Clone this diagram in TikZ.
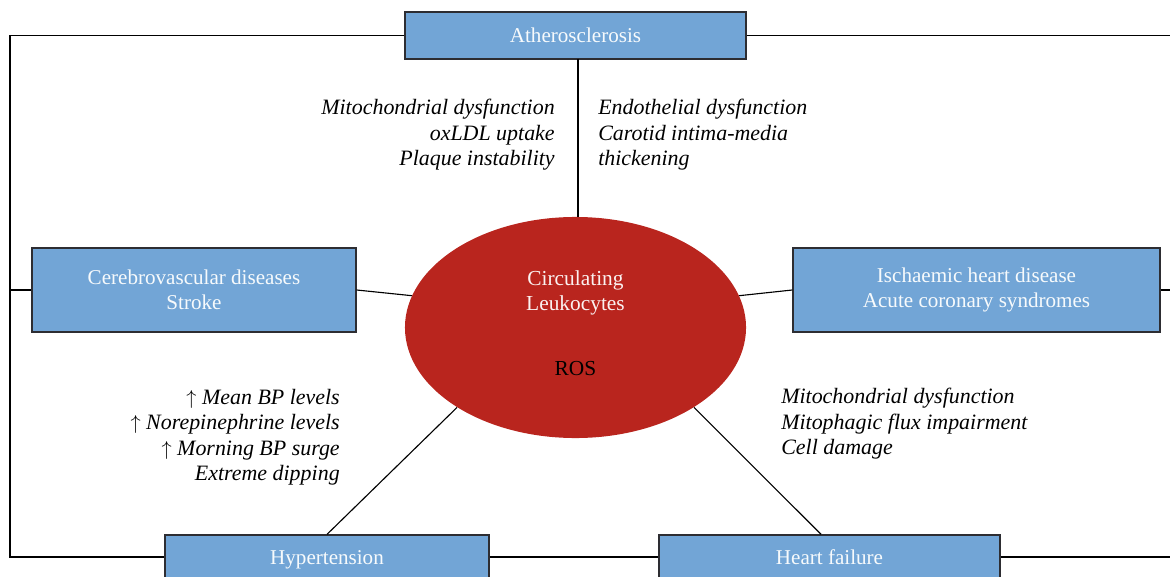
\documentclass[tikz,border=0pt]{standalone}
\usepackage{fontspec}
\setmainfont{Liberation Serif}
\usetikzlibrary{shapes.geometric}

\definecolor{boxblue}{RGB}{114,165,214}
\definecolor{leukored}{RGB}{185,37,30}
\definecolor{boxline}{RGB}{45,45,50}

\begin{document}
\begin{tikzpicture}[x=0.025cm,y=-0.025cm]
	    	\tikzstyle{disease}=[draw=boxline,line width=0.9pt,fill=boxblue,text=white!94!boxblue,align=center,inner sep=0pt,font=\fontsize{15}{17.8}\selectfont]
	    	\tikzstyle{onerow}=[text height=12.2pt,text depth=1.8pt]
	    	\tikzstyle{leuko}=[ellipse,fill=leukored,minimum width=8.525cm,minimum height=5.525cm,inner sep=0pt]
	    	\tikzstyle{mech}=[inner sep=0pt,font=\fontsize{15.6}{18.1}\selectfont\itshape]
	    	\tikzstyle{link}=[line width=0.8pt]

	    	\useasboundingbox (0,0) rectangle (1170,577);

			% disease boxes
	    	\node[disease,onerow,minimum width=8.525cm,minimum height=1.175cm] (ath) at (575.5,35.5) {Atherosclerosis};
	    	\node[disease,minimum width=8.1cm,minimum height=2.1cm] (cereb) at (194,290) {Cerebrovascular diseases\\Stroke};
	    	\node[disease,minimum width=9.175cm,minimum height=2.1cm] (isch) at (976.5,290) {Ischaemic heart disease\\Acute coronary syndromes};
	    	\node[disease,onerow,minimum width=8.1cm,minimum height=1.1cm] (hyp) at (327,557) {Hypertension};
	    	\node[disease,onerow,minimum width=8.525cm,minimum height=1.1cm] (hf) at (829.5,557) {Heart failure};

			% centre
	    	\node[leuko] (leuko) at (575.5,327.5) {};
	    	\node[align=center,text=white!94!leukored,font=\fontsize{15.2}{18}\selectfont] (circ) at (575.5,293) {Circulating\\Leukocytes};
	    	\node[font=\fontsize{15.2}{18}\selectfont] (ros) at (575.5,369) {ROS};

			% mechanisms
	    	\node[mech,align=right,anchor=east] (athl) at (555,135) {Mitochondrial dysfunction\\oxLDL uptake\\Plaque instability};
	    	\node[mech,align=left,anchor=west] (athr) at (598,135) {Endothelial dysfunction\\Carotid intima-media\\thickening};
	    	\node[mech,align=right,anchor=east] (hypm) at (340,437) {{\upshape$\uparrow$} Mean BP levels\\{\upshape$\uparrow$} Norepinephrine levels\\{\upshape$\uparrow$} Morning BP surge\\Extreme dipping};
	    	\node[mech,align=left,anchor=west] (hfm) at (781,424) {Mitochondrial dysfunction\\Mitophagic flux impairment\\Cell damage};

			% connectors
	    	\coordinate (ltop) at (10,35.5);
	    	\coordinate (lmid) at (10,290);
	    	\coordinate (rtop) at (1170,35.5);
	    	\coordinate (rmid) at (1170,290);
	    	\coordinate (rbot) at (1170,557);
	    	\coordinate (athfoot) at (578,59);
	    	\coordinate (leukotop) at (578,217);
	    	\coordinate (hftop) at ([xshift=-0.21cm]hf.north);
	    	\draw[link] (ath.west) -- (ltop) |- (hyp.west);
	    	\draw[link] (cereb.west) -- (lmid);
	    	\draw[link] (ath.east) -- (rtop);
	    	\draw[link] (isch.east) -- (rmid);
	    	\draw[link] (hyp.east) -- (hf.west);
	    	\draw[link] (hf.east) -- (rbot);
	    	\draw[link] (athfoot) -- (leukotop);
	    	\draw[link] (cereb.east) -- (leuko.169);
	    	\draw[link] (isch.west) -- (leuko.11);
	    	\draw[link] (hyp.north) -- (leuko.214);
	    	\draw[link] (hftop) -- (leuko.326);
	    \end{tikzpicture}
\end{document}
